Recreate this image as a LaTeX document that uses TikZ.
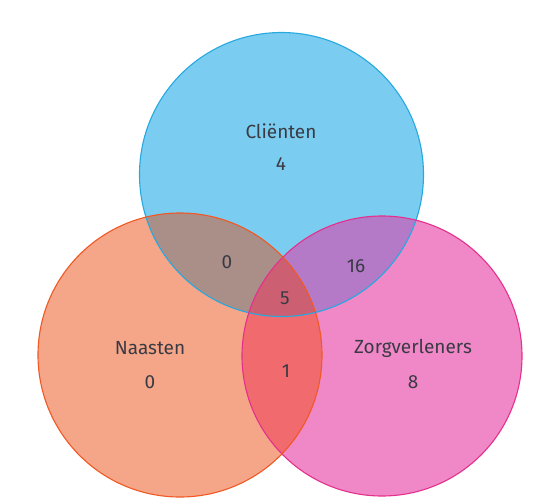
\documentclass[tikz,border=0pt]{standalone}
\usepackage{fontspec}
\setmainfont{Fira Sans}
\definecolor{blueFill}{RGB}{122,205,240}
\definecolor{blueLine}{RGB}{38,168,224}
\definecolor{orangeFill}{RGB}{245,166,136}
\definecolor{orangeLine}{RGB}{240,88,36}
\definecolor{pinkFill}{RGB}{240,136,200}
\definecolor{pinkLine}{RGB}{228,48,140}
\definecolor{blueOrange}{RGB}{170,142,136}
\definecolor{bluePink}{RGB}{180,122,200}
\definecolor{orangePink}{RGB}{240,106,110}
\definecolor{allThree}{RGB}{204,96,114}
\definecolor{txt}{RGB}{58,58,68}
\begin{document}
\begin{tikzpicture}
  [x=1pt,y=-1pt,every node/.style={font=\fontsize{19}{22}\selectfont,text=txt},
   ring/.style={line width=1.1pt}]
  \useasboundingbox (0,0) rectangle (533,501);
  \coordinate (cl) at (281.5,174.5);
  \coordinate (na) at (180,355);
  \coordinate (zo) at (382,356);

  \fill[blueFill] (cl) circle (142pt);
  \fill[orangeFill] (na) circle (142pt);
  \fill[pinkFill] (zo) circle (140pt);
  \begin{scope}
    \clip (cl) circle (142pt);
    \fill[blueOrange] (na) circle (142pt);
    \fill[bluePink] (zo) circle (140pt);
  \end{scope}
  \begin{scope}
    \clip (na) circle (142pt);
    \fill[orangePink] (zo) circle (140pt);
    \clip (cl) circle (142pt);
    \fill[allThree] (zo) circle (140pt);
  \end{scope}
  \draw[ring,blueLine] (cl) circle (142pt);
  \draw[ring,pinkLine] (zo) circle (140pt);
  \draw[ring,orangeLine] (na) circle (142pt);

  \node (t1) at (281,131) {Cliënten};
  \node (v1) at (281,164) {4};
  \node (t2) at (150,348) {Naasten};
  \node (v2) at (150,382) {0};
  \node (t3) at (413,348) {Zorgverleners};
  \node (v3) at (413,382) {8};
  \node (v12) at (227,262) {0};
  \node (v13) at (356,266) {16};
  \node (v123) at (285,298) {5};
  \node (v23) at (286,371) {1};
\end{tikzpicture}
\end{document}
